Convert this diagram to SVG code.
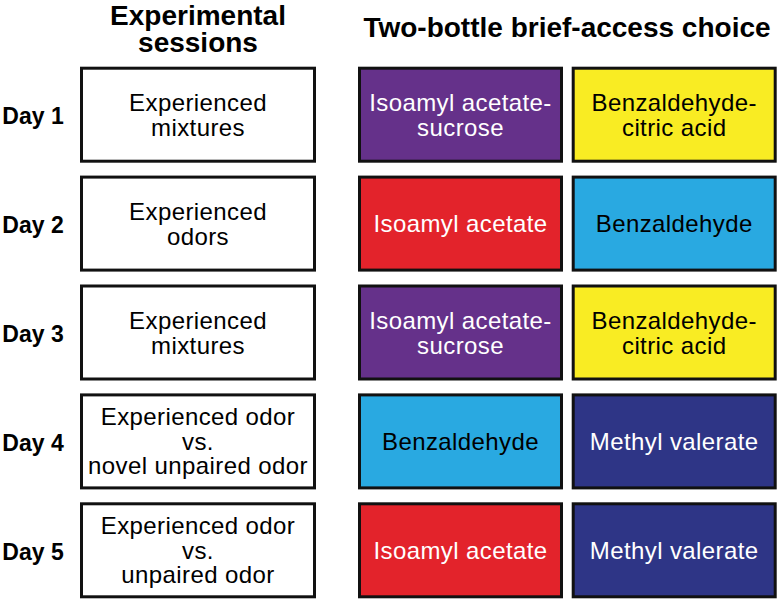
<svg xmlns="http://www.w3.org/2000/svg" width="777" height="599" viewBox="0 0 777 599">
<style>
text{font-family:"Liberation Sans",Arial,sans-serif;text-anchor:middle}
.h{font-weight:bold;font-size:28px;fill:#000}
.d{font-weight:bold;font-size:23px;fill:#000}
.t{font-size:24px;letter-spacing:0.4px}
.box{stroke:#111;stroke-width:3}
.w{fill:#fff}
.pu{fill:#65318a}
.ye{fill:#f9ec23}
.re{fill:#e3232b}
.lb{fill:#29a9e1}
.db{fill:#2e3586}
.wt{fill:#fff}
.bt{fill:#000}
</style>
<rect width="777" height="599" fill="#fff"/>
<g id="headers">
<text class="h" x="198" y="25">Experimental</text>
<text class="h" x="198" y="52">sessions</text>
<text class="h" x="567" y="37">Two-bottle brief-access choice</text>
</g>
<g id="day-labels">
<text class="d" x="33" y="124">Day 1</text>
<text class="d" x="33" y="233">Day 2</text>
<text class="d" x="33" y="342">Day 3</text>
<text class="d" x="33" y="451">Day 4</text>
<text class="d" x="33" y="560">Day 5</text>
</g>
<g id="session1"><rect class="box w" x="81.5" y="68.2" width="233" height="93"/><text class="t bt" x="198" y="111">Experienced</text><text class="t bt" x="198" y="135.5">mixtures</text></g>
<g id="session2"><rect class="box w" x="81.5" y="177.1" width="233" height="93"/><text class="t bt" x="198" y="220">Experienced</text><text class="t bt" x="198" y="244.5">odors</text></g>
<g id="session3"><rect class="box w" x="81.5" y="286" width="233" height="93"/><text class="t bt" x="198" y="329">Experienced</text><text class="t bt" x="198" y="353.5">mixtures</text></g>
<g id="session4"><rect class="box w" x="81.5" y="394.9" width="233" height="93"/><text class="t bt" x="198" y="425">Experienced odor</text><text class="t bt" x="198" y="449.5">vs.</text><text class="t bt" x="198" y="474">novel unpaired odor</text></g>
<g id="session5"><rect class="box w" x="81.5" y="503.8" width="233" height="93"/><text class="t bt" x="198" y="534">Experienced odor</text><text class="t bt" x="198" y="558.5">vs.</text><text class="t bt" x="198" y="583">unpaired odor</text></g>
<g id="choice1a"><rect class="box pu" x="359.5" y="68.2" width="202" height="93"/><text class="t wt" x="460.5" y="111">Isoamyl acetate-</text><text class="t wt" x="460.5" y="135.5">sucrose</text></g>
<g id="choice1b"><rect class="box ye" x="573.2" y="68.2" width="202" height="93"/><text class="t bt" x="674.2" y="111">Benzaldehyde-</text><text class="t bt" x="674.2" y="135.5">citric acid</text></g>
<g id="choice2a"><rect class="box re" x="359.5" y="177.1" width="202" height="93"/><text class="t wt" x="460.5" y="232">Isoamyl acetate</text></g>
<g id="choice2b"><rect class="box lb" x="573.2" y="177.1" width="202" height="93"/><text class="t bt" x="674.2" y="232">Benzaldehyde</text></g>
<g id="choice3a"><rect class="box pu" x="359.5" y="286" width="202" height="93"/><text class="t wt" x="460.5" y="329">Isoamyl acetate-</text><text class="t wt" x="460.5" y="353.5">sucrose</text></g>
<g id="choice3b"><rect class="box ye" x="573.2" y="286" width="202" height="93"/><text class="t bt" x="674.2" y="329">Benzaldehyde-</text><text class="t bt" x="674.2" y="353.5">citric acid</text></g>
<g id="choice4a"><rect class="box lb" x="359.5" y="394.9" width="202" height="93"/><text class="t bt" x="460.5" y="449.5">Benzaldehyde</text></g>
<g id="choice4b"><rect class="box db" x="573.2" y="394.9" width="202" height="93"/><text class="t wt" x="674.2" y="449.5">Methyl valerate</text></g>
<g id="choice5a"><rect class="box re" x="359.5" y="503.8" width="202" height="93"/><text class="t wt" x="460.5" y="558.5">Isoamyl acetate</text></g>
<g id="choice5b"><rect class="box db" x="573.2" y="503.8" width="202" height="93"/><text class="t wt" x="674.2" y="558.5">Methyl valerate</text></g>
<g id="connectors"></g>
</svg>
